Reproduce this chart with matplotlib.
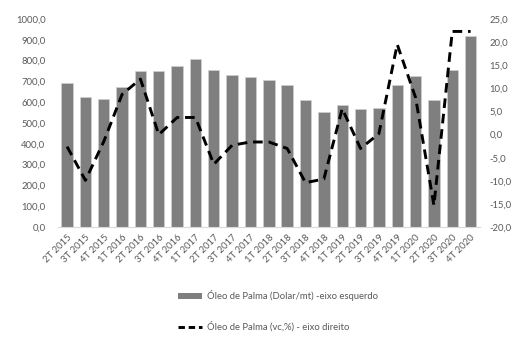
import matplotlib
matplotlib.use("Agg")
import matplotlib.pyplot as plt
from matplotlib.lines import Line2D
from matplotlib.patches import Patch

plt.rcParams["font.family"] = ["Lato", "DejaVu Sans"]

trimestres = ["2T 2015", "3T 2015", "4T 2015",
              "1T 2016", "2T 2016", "3T 2016", "4T 2016",
              "1T 2017", "2T 2017", "3T 2017", "4T 2017",
              "1T 2018", "2T 2018", "3T 2018", "4T 2018",
              "1T 2019", "2T 2019", "3T 2019", "4T 2019",
              "1T 2020", "2T 2020", "3T 2020", "4T 2020"]
preco_usd = [693, 626, 616, 671, 748, 748, 774, 806, 753, 729, 721,
             706, 681, 613, 554, 586, 568, 573, 681, 726, 613, 753, 920]
var_pct = [-2.6, -9.9, -1.5, 8.7, 12.0, 0.0, 3.7, 3.7, -6.4, -2.3, -1.6,
           -1.6, -3.0, -10.4, -9.6, 5.6, -3.0, 0.2, 19.5, 8.0, -15.3, 22.3, 22.3]

BAR = "#7f7f7f"
TXT = "#595959"
FS = 6.8

fig = plt.figure(figsize=(5.17, 3.51), dpi=100)
ax = fig.add_axes([0.112, 0.353, 0.816, 0.593])
ax2 = ax.twinx()

x = range(len(trimestres))
ax.bar(x, preco_usd, 0.62, color=BAR, edgecolor="#d0d0d0", linewidth=0.5)
ax2.plot(x, var_pct, color="black", linewidth=2.1, linestyle=(0, (3.3, 2.0)))

ax.set_xlim(-0.5, len(trimestres) - 0.5)
ax.set_ylim(0, 1000)
ax.set_yticks(range(0, 1001, 100))
ax.set_yticklabels([f"{v},0" for v in range(0, 1001, 100)])
ax2.set_ylim(-20, 25)
ax2.set_yticks(range(-20, 26, 5))
ax2.set_yticklabels([f"{v},0" for v in range(-20, 26, 5)])

ax.set_xticks(list(x))
ax.set_xticklabels(trimestres, rotation=45, ha="right", rotation_mode="anchor")

for a in (ax, ax2):
    for s in a.spines.values():
        s.set_visible(False)
    a.tick_params(length=0, labelsize=FS, colors=TXT)
ax.spines["bottom"].set_visible(True)
ax.spines["bottom"].set_color("#d9d9d9")
ax.tick_params(axis="y", pad=9)
ax.tick_params(axis="x", pad=4)
ax2.tick_params(axis="y", pad=7)

handles = [Patch(facecolor=BAR, edgecolor="none",
                 label="Óleo de Palma (Dolar/mt) -eixo esquerdo"),
           Line2D([], [], color="black", linewidth=2.1, linestyle=(0, (2.2, 1.3)),
                  label="Óleo de Palma (vc,%) - eixo direito")]
leg = fig.legend(handles=handles, loc="center left", bbox_to_anchor=(0.327, 0.114),
                 frameon=False, fontsize=FS, labelspacing=2.1, handlelength=2.6,
                 handleheight=0.5, handletextpad=0.5)
for t in leg.get_texts():
    t.set_color(TXT)

fig.savefig("out.png", dpi=100)
